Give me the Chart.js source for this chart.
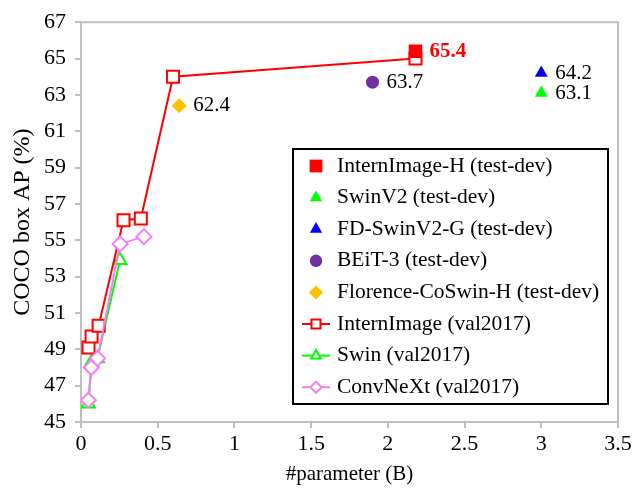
<!DOCTYPE html>
<html>
<head>
<meta charset="utf-8">
<script src="https://cdn.jsdelivr.net/npm/chart.js@4/dist/chart.umd.min.js"></script>
<style>
  body { margin: 0; background: #fff; }
  #wrap { width: 642px; height: 492px; }
</style>
</head>
<body>
<div id="wrap"><canvas id="chart"></canvas></div>
<script>
// val2017 curves: params (B) and box AP
const internParams = [0.049, 0.069, 0.115, 0.277, 0.39, 0.6, 2.18];
const internAP = [49.1, 49.7, 50.3, 56.1, 56.2, 64.0, 65.0];
const swinParams = [0.048, 0.069, 0.107, 0.254];
const swinAP = [46.0, 48.3, 48.5, 53.9];
const convnextParams = [0.048, 0.067, 0.108, 0.255, 0.41];
const convnextAP = [46.2, 48.0, 48.5, 54.8, 55.2];

// test-dev single points
const testNames = ['InternImage-H', 'SwinV2', 'FD-SwinV2-G', 'BEiT-3', 'Florence-CoSwin-H'];
const testParams = [2.18, 3.0, 3.0, 1.9, 0.64];
const testAP = [65.4, 63.1, 64.2, 63.7, 62.4];

const xTicks = [0, 0.5, 1, 1.5, 2, 2.5, 3, 3.5];
const yTicks = [45, 47, 49, 51, 53, 55, 57, 59, 61, 63, 65, 67];

const serif = 'Liberation Serif, Times New Roman, serif';
const pts = (xs, ys) => xs.map((x, i) => ({ x: x, y: ys[i] }));

const testStyle = [
  { color: '#FF0000', style: 'rect', r: 9.5, bold: true, labelColor: '#FF0000' },
  { color: '#00FF00', style: 'triangle', r: 7.5 },
  { color: '#0000FF', style: 'triangle', r: 7.5 },
  { color: '#7030A0', style: 'circle', r: 6.5 },
  { color: '#FFC000', style: 'rectRot', r: 7.5 }
];

const datasets = testNames.map((n, i) => ({
  label: n + ' (test-dev)',
  data: [{ x: testParams[i], y: testAP[i] }],
  showLine: false,
  pointStyle: testStyle[i].style,
  pointRadius: testStyle[i].r,
  pointBackgroundColor: testStyle[i].color,
  pointBorderColor: testStyle[i].color,
  pointBorderWidth: 0,
  order: 0,
  valueLabel: true,
  valueBold: !!testStyle[i].bold,
  valueColor: testStyle[i].labelColor || '#000'
}));

function valLine(label, data, color, style, r, order) {
  return {
    label: label,
    data: data,
    showLine: true,
    borderColor: color,
    borderWidth: 2,
    pointStyle: style,
    pointRadius: r,
    pointBackgroundColor: '#fff',
    pointBorderColor: color,
    pointBorderWidth: 2,
    order: order
  };
}

datasets.push(valLine('InternImage (val2017)', pts(internParams, internAP), '#FF0000', 'rect', 8.5, 2));
datasets.push(valLine('Swin (val2017)', pts(swinParams, swinAP), '#00FF00', 'triangle', 7.5, 3));
datasets.push(valLine('ConvNeXt (val2017)', pts(convnextParams, convnextAP), '#F57EF5', 'rectRot', 7.5, 1));

// gray frame on top / right of plot area
const frame = {
  id: 'frame',
  beforeDatasetsDraw(chart) {
    const { ctx, chartArea: a } = chart;
    ctx.save();
    ctx.strokeStyle = '#BFBFBF';
    ctx.lineWidth = 2;
    ctx.beginPath();
    ctx.moveTo(a.left, a.top);
    ctx.lineTo(a.right, a.top);
    ctx.lineTo(a.right, a.bottom);
    ctx.stroke();
    ctx.restore();
  }
};

// numbers next to test-dev points
const valueLabels = {
  id: 'valueLabels',
  afterDatasetsDraw(chart) {
    const ctx = chart.ctx;
    chart.data.datasets.forEach((ds, i) => {
      if (!ds.valueLabel) return;
      const meta = chart.getDatasetMeta(i);
      meta.data.forEach((el, j) => {
        ctx.save();
        ctx.font = (ds.valueBold ? 'bold ' : '') + '21px ' + serif;
        ctx.fillStyle = ds.valueColor;
        ctx.textAlign = 'left';
        ctx.textBaseline = 'middle';
        ctx.fillText(ds.data[j].y.toFixed(1), el.x + 14, el.y);
        ctx.restore();
      });
    });
  }
};

// boxed legend inside the plot
const boxLegend = {
  id: 'boxLegend',
  afterDraw(chart) {
    const ctx = chart.ctx;
    const left = 293, top = 149, right = 608, bottom = 404;
    ctx.save();
    ctx.fillStyle = '#fff';
    ctx.fillRect(left, top, right - left, bottom - top);
    ctx.strokeStyle = '#000';
    ctx.lineWidth = 2;
    ctx.strokeRect(left, top, right - left, bottom - top);
    chart.data.datasets.forEach((ds, i) => {
      const y = 166 + i * 31.6;
      const mx = 316;
      if (ds.showLine) {
        ctx.strokeStyle = ds.borderColor;
        ctx.lineWidth = 2;
        ctx.beginPath();
        ctx.moveTo(302, y);
        ctx.lineTo(330, y);
        ctx.stroke();
      }
      ctx.fillStyle = ds.pointBackgroundColor;
      ctx.strokeStyle = ds.pointBorderColor;
      ctx.lineWidth = ds.pointBorderWidth;
      const r = ds.showLine ? ds.pointRadius * 0.75 : ds.pointRadius * 0.95;
      Chart.helpers.drawPoint(ctx, { pointStyle: ds.pointStyle, radius: r, borderWidth: ds.pointBorderWidth, rotation: 0 }, mx, y);
      ctx.fillStyle = '#000';
      ctx.font = '21.5px ' + serif;
      ctx.textAlign = 'left';
      ctx.textBaseline = 'middle';
      ctx.fillText(ds.label, 337, y);
    });
    ctx.restore();
  }
};

const axisCommon = {
  type: 'linear',
  grid: { drawOnChartArea: false, drawTicks: true, tickLength: 6, color: '#BFBFBF', lineWidth: 2 },
  border: { color: '#BFBFBF', width: 2 }
};

new Chart(document.getElementById('chart').getContext('2d'), {
  type: 'scatter',
  data: { datasets: datasets },
  options: {
    responsive: true,
    maintainAspectRatio: false,
    animation: false,
    layout: { padding: { left: 0, right: 24, top: 13, bottom: 0 } },
    plugins: { legend: { display: false }, tooltip: { enabled: false } },
    scales: {
      x: Object.assign({}, axisCommon, {
        min: 0, max: 3.5,
        afterBuildTicks: s => { s.ticks = xTicks.map(v => ({ value: v })); },
        afterFit: s => { s.height = 70; },
        ticks: { font: { family: serif, size: 22 }, color: '#000', padding: 3, maxRotation: 0, autoSkip: false, callback: v => String(v) },
        title: { display: true, text: '#parameter (B)', font: { family: serif, size: 21 }, color: '#000', padding: { top: 0, bottom: 5 } }
      }),
      y: Object.assign({}, axisCommon, {
        min: 45, max: 67,
        afterBuildTicks: s => { s.ticks = yTicks.map(v => ({ value: v })); },
        afterFit: s => { s.width = 81; },
        ticks: { font: { family: serif, size: 22 }, color: '#000', padding: 9, autoSkip: false, callback: v => String(v) },
        title: { display: true, text: 'COCO box AP (%)', font: { family: serif, size: 24 }, color: '#000', padding: { top: 8, bottom: 0 } }
      })
    }
  },
  plugins: [frame, valueLabels, boxLegend]
});
</script>
</body>
</html>
